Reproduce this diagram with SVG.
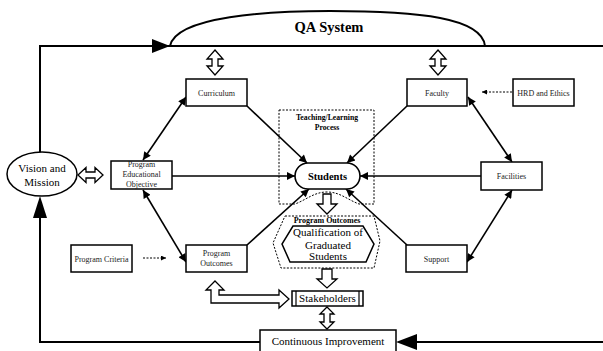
<svg xmlns="http://www.w3.org/2000/svg" width="603" height="351" viewBox="0 0 603 351">
<style>
text{font-family:'Liberation Serif','Times New Roman','DejaVu Serif',serif}
.bx{fill:#fff;stroke:#000;stroke-width:1.5}
.lb{font-size:8px;fill:#222;text-anchor:middle}
.md{font-size:11px;fill:#000;text-anchor:middle}
.bd{font-weight:bold;fill:#000;text-anchor:middle}
.ln{stroke:#000;stroke-width:1.6;fill:none}
.lp{stroke:#000;stroke-width:2;fill:none}
.ds{stroke:#000;stroke-width:1;fill:none;stroke-dasharray:2,1.5}
.blk{fill:#fff;stroke:#000;stroke-width:1.3}
</style>
<defs>
<marker id="ah" viewBox="0 0 10 10" refX="10" refY="5" markerWidth="10" markerHeight="8" orient="auto-start-reverse" markerUnits="userSpaceOnUse"><path d="M0,0 L10,5 L0,10 z" fill="#000"/></marker>
<marker id="sh" viewBox="0 0 10 10" refX="10" refY="5" markerWidth="7" markerHeight="5" orient="auto" markerUnits="userSpaceOnUse"><path d="M0,0 L10,5 L0,10 z" fill="#000"/></marker>
</defs>

<g id="loop">
<path class="lp" d="M40,152 V46 H603"/>
<path class="lp" d="M170,46 C176,16 270,11 330,11 C420,11 482,18 485,46"/>
<polygon points="152,39 170,46 152,53" fill="#000"/>
<path class="lp" d="M40,216 V342 H260"/>
<polygon points="40,196 47,218 33,218" fill="#000"/>
<path class="lp" d="M603,342 H410"/>
<polygon points="396,342 417,334 417,350" fill="#000"/>
<text class="bd" x="329" y="32" font-size="14.5" font-family="'Liberation Serif','Times New Roman',serif">QA System</text>
</g>

<g id="teaching-group">
<path class="ds" d="M279,110 H374 V204 H359 C348,200 340,192 327,192 C314,192 306,200 295,204 H279 Z"/>
<text class="bd" x="327" y="120" font-size="7.7">Teaching/Learning</text>
<text class="bd" x="327" y="130" font-size="7.7">Process</text>
</g>

<g id="outcomes-group">
<path class="ds" d="M285,216 H374 L380,241 L374,268 H281 L273,243 Z"/>
<text class="bd" x="327" y="223" font-size="8">Program Outcomes</text>
</g>

<g id="connectors">
<line class="ln" x1="143" y1="160" x2="186" y2="97" marker-start="url(#ah)" marker-end="url(#ah)"/>
<line class="ln" x1="143" y1="190" x2="186" y2="262" marker-start="url(#ah)" marker-end="url(#ah)"/>
<line class="ln" x1="172" y1="176" x2="295" y2="176" marker-end="url(#ah)"/>
<line class="ln" x1="247" y1="106" x2="307" y2="163" marker-end="url(#ah)"/>
<line class="ln" x1="407" y1="106" x2="347" y2="163" marker-end="url(#ah)"/>
<line class="ln" x1="468" y1="97" x2="512" y2="162" marker-start="url(#ah)" marker-end="url(#ah)"/>
<line class="ln" x1="481" y1="176" x2="360" y2="176" marker-end="url(#ah)"/>
<line class="ln" x1="512" y1="190" x2="467" y2="262" marker-start="url(#ah)" marker-end="url(#ah)"/>
<line class="ln" x1="407" y1="245" x2="346" y2="189" marker-end="url(#ah)"/>
<line class="ln" x1="247" y1="245" x2="309" y2="189" marker-end="url(#ah)"/>
<line class="ds" x1="512" y1="92" x2="482" y2="92" marker-end="url(#sh)"/>
<line class="ds" x1="143" y1="258" x2="166" y2="258" marker-end="url(#sh)"/>
<polygon class="blk" points="215,50 223,59 218,59 218,66 223,66 215,75 207,66 212,66 212,59 207,59"/>
<polygon class="blk" points="438,50 446,59 441,59 441,66 446,66 438,75 430,66 435,66 435,59 430,59"/>
<polygon class="blk" points="78,175 86,167.5 86,172 95,172 95,167.5 103,175 95,182.5 95,178 86,178 86,182.5"/>
<polygon class="blk" points="323,194 331,194 331,204 337,204 327,214 317,204 323,204"/>
<polygon class="blk" points="322,269 332,269 332,279 337,279 327,288 317,279 322,279"/>
<polygon class="blk" points="327,307 334,314 330,314 330,322 334,322 327,329 320,322 324,322 324,314 320,314"/>
<polygon class="blk" points="215,281 224,290 219,290 219,295 279,295 279,290 289,299 279,308 279,303 211,303 211,290 206,290"/>
</g>

<g id="vision">
<ellipse cx="42" cy="174" rx="35" ry="22" fill="#fff" stroke="#000" stroke-width="1.5"/>
<text class="md" x="42" y="172">Vision and</text>
<text class="md" x="42" y="186">Mission</text>
</g>

<g id="peo">
<rect class="bx" x="111" y="161" width="61" height="28"/>
<text class="lb" x="141.5" y="167">Program</text>
<text class="lb" x="141.5" y="177">Educational</text>
<text class="lb" x="141.5" y="187">Objective</text>
</g>

<g id="curriculum">
<rect class="bx" x="186" y="79" width="61" height="27"/>
<text class="lb" x="216.5" y="95.5">Curriculum</text>
</g>

<g id="faculty">
<rect class="bx" x="407" y="79" width="60" height="27"/>
<text class="lb" x="437" y="95.5">Faculty</text>
</g>

<g id="hrd">
<rect class="bx" x="513" y="79" width="61" height="27"/>
<text class="lb" x="543.5" y="95.5">HRD and Ethics</text>
</g>

<g id="facilities">
<rect class="bx" x="481" y="162" width="61" height="28"/>
<text class="lb" x="511.5" y="179">Facilities</text>
</g>

<g id="support">
<rect class="bx" x="406" y="245" width="61" height="27"/>
<text class="lb" x="436.5" y="261.5">Support</text>
</g>

<g id="program-criteria">
<rect class="bx" x="71" y="245" width="61" height="27"/>
<text class="lb" x="101.5" y="261.5">Program Criteria</text>
</g>

<g id="program-outcomes">
<rect class="bx" x="186" y="245" width="61" height="27"/>
<text class="lb" x="216.5" y="256">Program</text>
<text class="lb" x="216.5" y="266">Outcomes</text>
</g>

<g id="students">
<rect x="295" y="163" width="65" height="26" rx="13" ry="13" fill="#fff" stroke="#000" stroke-width="1.6"/>
<text class="bd" x="327.5" y="180" font-size="10.5">Students</text>
</g>

<g id="qualification">
<polygon points="293,226 363,226 374,244 366,262 290,262 282,244" fill="#fff" stroke="#000" stroke-width="1.5"/>
<text class="md" x="328" y="236" font-size="10.5">Qualification of</text>
<text class="md" x="328" y="248.5" font-size="10.5">Graduated</text>
<text class="md" x="328" y="260" font-size="10.5">Students</text>
</g>

<g id="stakeholders">
<rect class="bx" x="292" y="291" width="71" height="15"/>
<line x1="296" y1="291" x2="296" y2="306" stroke="#000" stroke-width="1.2"/>
<line x1="359" y1="291" x2="359" y2="306" stroke="#000" stroke-width="1.2"/>
<text class="md" x="327.5" y="302" font-size="10.5">Stakeholders</text>
</g>

<g id="continuous-improvement">
<rect class="bx" x="260" y="330" width="136" height="30"/>
<text class="md" x="328" y="345" font-size="10.5">Continuous Improvement</text>
</g>
</svg>
